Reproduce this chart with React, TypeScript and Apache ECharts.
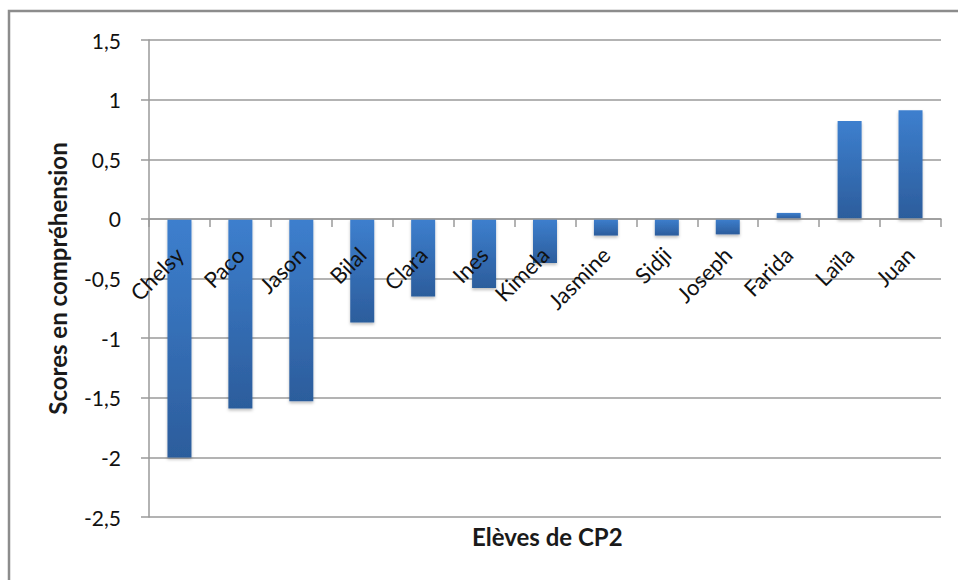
import React, { useEffect, useRef } from "react";
import * as echarts from "echarts";

const categories = ["Chelsy", "Paco", "Jason", "Bilal", "Clara", "Ines", "Kimela", "Jasmine", "Sidji", "Joseph", "Farida", "Laïla", "Juan"];
const scores = [-2.0, -1.59, -1.53, -0.87, -0.65, -0.58, -0.37, -0.14, -0.14, -0.13, 0.05, 0.82, 0.91];
const yMin = -2.5;
const yMax = 1.5;
const yStep = 0.5;
const xTitle = "Elèves de CP2";
const yTitle = "Scores en compréhension";

const FONT = "Lato, 'Open Sans', sans-serif";
const GRID_TOP = 40;
const GRID_BOTTOM = 63;
const HEIGHT = 580;

export default function App() {
  const ref = useRef<HTMLDivElement>(null);
  useEffect(() => {
    if (!ref.current) return;
    const chart = echarts.init(ref.current, undefined, { renderer: "svg" });
    const plotH = HEIGHT - GRID_TOP - GRID_BOTTOM;
    // place the category axis on the value 0 of the value axis
    const zeroOffset = -((0 - yMin) / (yMax - yMin)) * plotH;
    chart.setOption({
      animation: false,
      backgroundColor: "#ffffff",
      grid: { left: 149, right: 17, top: GRID_TOP, bottom: GRID_BOTTOM, containLabel: false, outerBoundsMode: "none" },
      graphic: [
        {
          type: "rect",
          shape: { x: 9, y: 11, width: 1200, height: 1000 },
          style: { fill: "none", stroke: "#8c8c8c", lineWidth: 2.5 },
          z: -1,
        },
        {
          type: "text",
          left: 472,
          top: 524,
          style: { text: xTitle, fontFamily: FONT, fontSize: 24, fontWeight: "bold", fill: "#1a1a1a" },
        },
      ],
      xAxis: {
        type: "category",
        data: categories,
        position: "bottom",
        offset: zeroOffset,
        z: 10,
        axisLine: { show: true, onZero: false, lineStyle: { color: "#9a9a9a", width: 1.5 } },
        axisTick: { show: true, length: 8, alignWithLabel: false, lineStyle: { color: "#9a9a9a", width: 1.5 } },
        axisLabel: { rotate: 45, margin: 32, interval: 0, fontFamily: FONT, fontSize: 22, color: "#111111" },
        splitLine: { show: false },
      },
      yAxis: {
        type: "value",
        min: yMin,
        max: yMax,
        interval: yStep,
        name: yTitle,
        nameLocation: "middle",
        nameGap: 80,
        nameRotate: 90,
        nameTextStyle: { fontFamily: FONT, fontSize: 24, fontWeight: "bold", color: "#1a1a1a" },
        axisLine: { show: true, lineStyle: { color: "#9a9a9a", width: 1.5 } },
        axisTick: { show: true, length: 8, lineStyle: { color: "#9a9a9a", width: 1.5 } },
        axisLabel: {
          margin: 28,
          fontFamily: FONT,
          fontSize: 21,
          color: "#111111",
          formatter: (v: number) => String(Math.round(v * 10) / 10).replace(".", ","),
        },
        splitLine: { show: true, lineStyle: { color: "#9a9a9a", width: 1.5 } },
      },
      series: [
        {
          type: "bar",
          data: scores,
          barWidth: 24,
          itemStyle: {
            color: new echarts.graphic.LinearGradient(0, 0, 0, 1, [
              { offset: 0, color: "#3d7fce" },
              { offset: 1, color: "#2c5d9c" },
            ]),
            shadowBlur: 3,
            shadowOffsetY: 2,
            shadowColor: "rgba(0,0,0,0.25)",
          },
        },
      ],
    });
    return () => chart.dispose();
  }, []);
  return <div ref={ref} style={{ position: "fixed", left: 0, top: 0, width: 958, height: 580 }} />;
}
